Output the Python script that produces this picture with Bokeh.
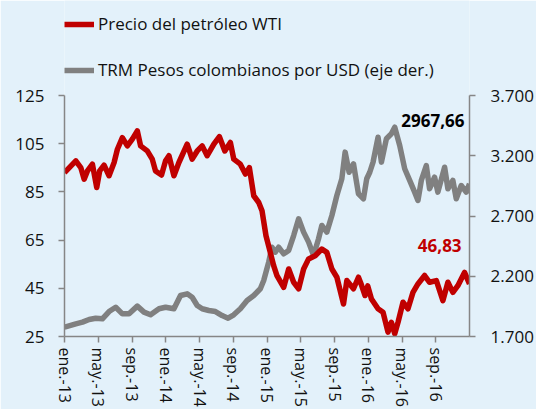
from bokeh.plotting import figure
from bokeh.models import Range1d, LinearAxis, FixedTicker, Legend, LegendItem, Label
from bokeh.embed import file_html
from bokeh.resources import INLINE

# x position in months since ene.-2013 (category-like axis)
wti_x = [0.0, 1.34, 1.93, 2.33, 2.72, 3.31, 3.82, 4.17, 4.69, 5.28, 5.88, 6.27, 6.86, 7.45, 8.04,
         8.63, 9.02, 9.81, 10.40, 10.79, 11.50, 11.98, 12.38, 12.97, 13.56, 14.54, 15.13, 15.73,
         16.32, 16.91, 17.70, 18.36, 19.00, 19.66, 20.06, 20.84, 21.44, 21.91, 22.43, 23.02, 23.41,
         23.88, 24.39, 24.79, 25.18, 25.98, 26.57, 27.16, 27.75, 28.34, 28.93, 29.71, 30.50, 31.09,
         31.69, 32.28, 33.07, 33.46, 34.25, 34.84, 35.13, 35.62, 35.94, 36.38, 37.16, 37.75, 38.34,
         38.74, 39.14, 39.53, 40.12, 40.71, 41.30, 41.89, 42.68, 43.27, 44.07, 44.85, 45.44, 46.03,
         46.62, 47.41, 48.0]
wti = [93.0, 97.9, 95.1, 90.3, 93.7, 96.5, 86.8, 93.7, 96.1, 91.7, 97.2, 102.7, 107.5, 104.1, 106.9,
       110.3, 104.1, 102.0, 98.6, 93.7, 92.0, 97.9, 100.0, 91.7, 97.2, 104.8, 98.6, 102.0,
       104.1, 100.0, 104.8, 107.9, 102.0, 105.5, 98.6, 96.5, 92.4, 95.1, 83.4, 80.6, 77.2,
       66.8, 59.9, 54.4, 50.3, 45.4, 53.0, 47.5, 44.8, 53.0, 57.2, 58.5, 61.3, 59.9,
       53.0, 49.6, 38.5, 48.2, 44.8, 49.6, 47.0, 42.0, 46.0, 40.6, 36.5, 35.1, 26.8,
       30.9, 26.1, 30.9, 39.2, 36.5, 43.3, 46.8, 50.3, 47.5, 48.2, 39.9, 47.5, 43.3,
       46.1, 51.6, 46.83]

trm_x = [0.0, 1.34, 2.13, 2.92, 3.70, 4.49, 5.28, 6.07, 6.86, 7.65, 8.63, 9.42, 10.20, 11.20, 11.98,
         12.97, 13.75, 14.54, 15.13, 15.73, 16.32, 17.11, 17.89, 18.68, 19.39, 20.06, 20.84, 21.64,
         22.43, 23.21, 23.61, 23.94, 24.20, 24.59, 24.98, 25.38, 25.98, 26.57, 27.16, 27.75, 28.34,
         28.93, 29.52, 30.11, 30.50, 31.09, 31.69, 32.28, 32.87, 33.26, 33.73, 34.25, 34.84, 35.43,
         35.82, 36.18, 36.57, 37.16, 37.56, 38.15, 38.74, 39.14, 39.73, 40.32, 40.91, 41.50, 41.89,
         42.29, 42.88, 43.27, 43.86, 44.25, 45.05, 45.44, 46.03, 46.43, 47.02, 47.61, 48.0]
trm = [1777, 1805, 1819, 1841, 1852, 1847, 1907, 1943, 1888, 1888, 1952, 1902, 1880, 1930, 1943,
       1930, 2040, 2054, 2026, 1957, 1930, 1916, 1907, 1874, 1852, 1880, 1930, 1999,
       2040, 2096, 2165, 2250, 2317, 2441, 2400, 2441, 2386, 2414, 2538, 2677, 2566,
       2483, 2372, 2511, 2621, 2566, 2704, 2870, 3009, 3230, 3063, 3133, 2884, 2843,
       3009, 3063, 3147, 3354, 3147, 3341, 3382, 3437, 3285, 3092, 2995, 2898, 2829,
       2995, 3119, 2926, 3022, 2898, 3105, 2926, 2995, 2843, 2953, 2898, 2967.66]

tick_pos = [0, 4, 8, 12, 16, 20, 24, 28, 32, 36, 40, 44]
tick_labels = ["ene.-13", "may.-13", "sep.-13", "ene.-14", "may.-14", "sep.-14",
               "ene.-15", "may.-15", "sep.-15", "ene.-16", "may.-16", "sep.-16"]
left_ticks = [25, 45, 65, 85, 105, 125]
right_ticks = [1700, 2200, 2700, 3200, 3700]
right_labels = ["1.700", "2.200", "2.700", "3.200", "3.700"]

BG = "#E3F1FA"
AX = "#868686"
FONT = "Open Sans"
RED = "#C00000"
GRAY = "#808080"

# frame spans the full height above the x axis; axes are bounded to the value ranges,
# the extra room on top holds the legend
FRAME_H = 336
PX_PER_UNIT = 241 / 100.0
y_top = 25 + FRAME_H / PX_PER_UNIT
trm_top = 1700 + (y_top - 25) * 20

p = figure(width=536, height=409, output_backend="svg", toolbar_location=None,
           x_range=Range1d(0, 48), y_range=Range1d(25, y_top),
           min_border_left=64, min_border_right=66, min_border_top=0, min_border_bottom=73)
p.extra_y_ranges = {"trm": Range1d(1700, trm_top)}
p.background_fill_color = BG
p.border_fill_color = BG
p.outline_line_color = None
p.grid.visible = False

r_trm = p.line(trm_x, trm, y_range_name="trm", line_color=GRAY, line_width=5.5, line_join="round")
r_wti = p.line(wti_x, wti, line_color=RED, line_width=5.5, line_join="round")

def style(ax, size="17px"):
    ax.axis_line_color = AX
    ax.axis_line_width = 1.5
    ax.major_tick_line_color = AX
    ax.major_tick_line_width = 1.5
    ax.major_tick_in = 0
    ax.major_tick_out = 6
    ax.minor_tick_line_color = None
    ax.major_label_text_font = FONT
    ax.major_label_text_font_size = size
    ax.major_label_text_color = "#111111"

xa = p.xaxis[0]
xa.ticker = FixedTicker(ticks=tick_pos)
xa.major_label_overrides = {t: l for t, l in zip(tick_pos, tick_labels)}
xa.major_label_orientation = "vertical"
xa.major_label_standoff = 5
style(xa, "16px")

ya = p.yaxis[0]
ya.ticker = FixedTicker(ticks=left_ticks)
ya.bounds = (left_ticks[0], left_ticks[-1])
ya.major_label_standoff = 14
style(ya)

ra = LinearAxis(y_range_name="trm", ticker=FixedTicker(ticks=right_ticks),
                bounds=(right_ticks[0], right_ticks[-1]))
ra.major_label_overrides = {t: l for t, l in zip(right_ticks, right_labels)}
ra.major_label_standoff = 15
style(ra)
p.add_layout(ra, "right")

def fmt(v):
    return f"{v:.2f}".replace(".", ",")

p.add_layout(Label(x=47.4, y=3490, y_range_name="trm", text=fmt(trm[-1]), text_align="right",
                   text_baseline="middle", text_font=FONT, text_font_size="17px",
                   text_font_style="bold", text_color="#000000"))
p.add_layout(Label(x=47.06, y=62.7, text=fmt(wti[-1]), text_align="right",
                   text_baseline="middle", text_font=FONT, text_font_size="17px",
                   text_font_style="bold", text_color=RED))

legend = Legend(items=[LegendItem(label="Precio del petróleo WTI", renderers=[r_wti]),
                       LegendItem(label="TRM Pesos colombianos por USD (eje der.)", renderers=[r_trm])],
                location=(0, 255), orientation="vertical",
                glyph_width=30, glyph_height=20, label_height=20, label_standoff=4,
                spacing=23, padding=3, margin=0,
                label_text_font=FONT, label_text_font_size="17px", label_text_color="#111111",
                background_fill_alpha=0, border_line_color=None)
p.add_layout(legend, "center")

open("out.html", "w").write(file_html(p, INLINE))
